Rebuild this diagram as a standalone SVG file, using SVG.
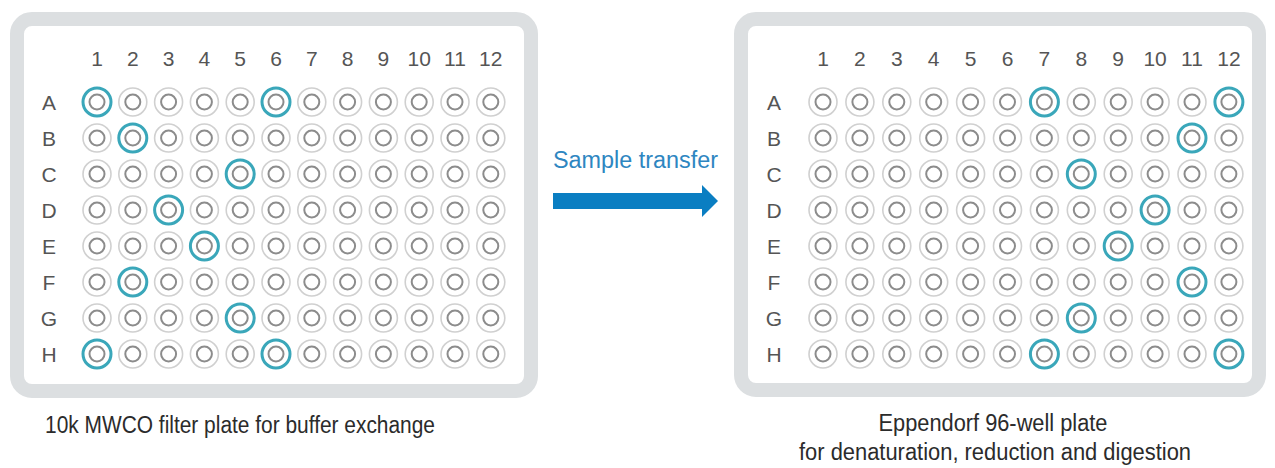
<svg xmlns="http://www.w3.org/2000/svg" xmlns:xlink="http://www.w3.org/1999/xlink" width="1275" height="468" viewBox="0 0 1275 468">
<style>
.plate{fill:#ffffff;stroke:#dcdfe1;stroke-width:14}
.wo{fill:none;stroke:#d0d0d0;stroke-width:1.6}
.wi{fill:none;stroke:#8c8c8c;stroke-width:2}
.hl{fill:none;stroke:#3aa7ba;stroke-width:3}
.lab{font-family:"Liberation Sans",Arial,sans-serif;font-size:21px;fill:#555555;text-anchor:middle}
.cap{font-family:"Liberation Sans",Arial,sans-serif;font-size:23px;fill:#2b2b2b;text-anchor:middle}
.arrtxt{font-family:"Liberation Sans",Arial,sans-serif;font-size:23px;fill:#2e86c1}
</style>
<defs>
<g id="w"><circle r="14" class="wo"/><circle r="7.5" class="wi"/></g>
<g id="rowL">
<use xlink:href="#w" x="97"/><use xlink:href="#w" x="132.8"/><use xlink:href="#w" x="168.6"/><use xlink:href="#w" x="204.4"/><use xlink:href="#w" x="240.2"/><use xlink:href="#w" x="276"/><use xlink:href="#w" x="311.8"/><use xlink:href="#w" x="347.6"/><use xlink:href="#w" x="383.4"/><use xlink:href="#w" x="419.2"/><use xlink:href="#w" x="455"/><use xlink:href="#w" x="490.8"/>
</g>
<g id="rowR">
<use xlink:href="#w" x="823"/><use xlink:href="#w" x="859.9"/><use xlink:href="#w" x="896.8"/><use xlink:href="#w" x="933.7"/><use xlink:href="#w" x="970.6"/><use xlink:href="#w" x="1007.5"/><use xlink:href="#w" x="1044.4"/><use xlink:href="#w" x="1081.3"/><use xlink:href="#w" x="1118.2"/><use xlink:href="#w" x="1155.1"/><use xlink:href="#w" x="1192"/><use xlink:href="#w" x="1228.9"/>
</g>
</defs>
<rect width="1275" height="468" fill="#ffffff"/>

<g id="plate-left">
<rect class="plate" x="17" y="19" width="514" height="372" rx="15"/>
<g class="lab">
<text x="97" y="66">1</text><text x="132.8" y="66">2</text><text x="168.6" y="66">3</text><text x="204.4" y="66">4</text><text x="240.2" y="66">5</text><text x="276" y="66">6</text><text x="311.8" y="66">7</text><text x="347.6" y="66">8</text><text x="383.4" y="66">9</text><text x="419.2" y="66">10</text><text x="455" y="66">11</text><text x="490.8" y="66">12</text>
<text x="49" y="110">A</text><text x="49" y="146">B</text><text x="49" y="182">C</text><text x="49" y="218">D</text><text x="49" y="254">E</text><text x="49" y="290">F</text><text x="49" y="326">G</text><text x="49" y="362">H</text>
</g>
<use xlink:href="#rowL" y="102"/><use xlink:href="#rowL" y="138"/><use xlink:href="#rowL" y="174"/><use xlink:href="#rowL" y="210"/><use xlink:href="#rowL" y="246"/><use xlink:href="#rowL" y="282"/><use xlink:href="#rowL" y="318"/><use xlink:href="#rowL" y="354"/>
<g class="hl">
<circle cx="97" cy="102" r="14"/><circle cx="276" cy="102" r="14"/>
<circle cx="132.8" cy="138" r="14"/>
<circle cx="240.2" cy="174" r="14"/>
<circle cx="168.6" cy="210" r="14"/>
<circle cx="204.4" cy="246" r="14"/>
<circle cx="132.8" cy="282" r="14"/>
<circle cx="240.2" cy="318" r="14"/>
<circle cx="97" cy="354" r="14"/><circle cx="276" cy="354" r="14"/>
</g>
<text class="cap" x="240" y="433" textLength="390" lengthAdjust="spacingAndGlyphs">10k MWCO filter plate for buffer exchange</text>
</g>

<g id="plate-right">
<rect class="plate" x="741" y="19" width="518" height="371" rx="15"/>
<g class="lab">
<text x="823" y="66">1</text><text x="859.9" y="66">2</text><text x="896.8" y="66">3</text><text x="933.7" y="66">4</text><text x="970.6" y="66">5</text><text x="1007.5" y="66">6</text><text x="1044.4" y="66">7</text><text x="1081.3" y="66">8</text><text x="1118.2" y="66">9</text><text x="1155.1" y="66">10</text><text x="1192" y="66">11</text><text x="1228.9" y="66">12</text>
<text x="774" y="110">A</text><text x="774" y="146">B</text><text x="774" y="182">C</text><text x="774" y="218">D</text><text x="774" y="254">E</text><text x="774" y="290">F</text><text x="774" y="326">G</text><text x="774" y="362">H</text>
</g>
<use xlink:href="#rowR" y="102"/><use xlink:href="#rowR" y="138"/><use xlink:href="#rowR" y="174"/><use xlink:href="#rowR" y="210"/><use xlink:href="#rowR" y="246"/><use xlink:href="#rowR" y="282"/><use xlink:href="#rowR" y="318"/><use xlink:href="#rowR" y="354"/>
<g class="hl">
<circle cx="1044.4" cy="102" r="14"/><circle cx="1228.9" cy="102" r="14"/>
<circle cx="1192" cy="138" r="14"/>
<circle cx="1081.3" cy="174" r="14"/>
<circle cx="1155.1" cy="210" r="14"/>
<circle cx="1118.2" cy="246" r="14"/>
<circle cx="1192" cy="282" r="14"/>
<circle cx="1081.3" cy="318" r="14"/>
<circle cx="1044.4" cy="354" r="14"/><circle cx="1228.9" cy="354" r="14"/>
</g>
<text class="cap" x="993" y="431" textLength="229" lengthAdjust="spacingAndGlyphs">Eppendorf 96-well plate</text>
<text class="cap" x="995" y="460" textLength="392" lengthAdjust="spacingAndGlyphs">for denaturation, reduction and digestion</text>
</g>

<g id="connectors">
<polygon points="553,193 702,193 702,185 718,201 702,217 702,209 553,209" fill="#0a7ec2"/>
<text class="arrtxt" x="553" y="168" textLength="165" lengthAdjust="spacingAndGlyphs">Sample transfer</text>
</g>
</svg>
